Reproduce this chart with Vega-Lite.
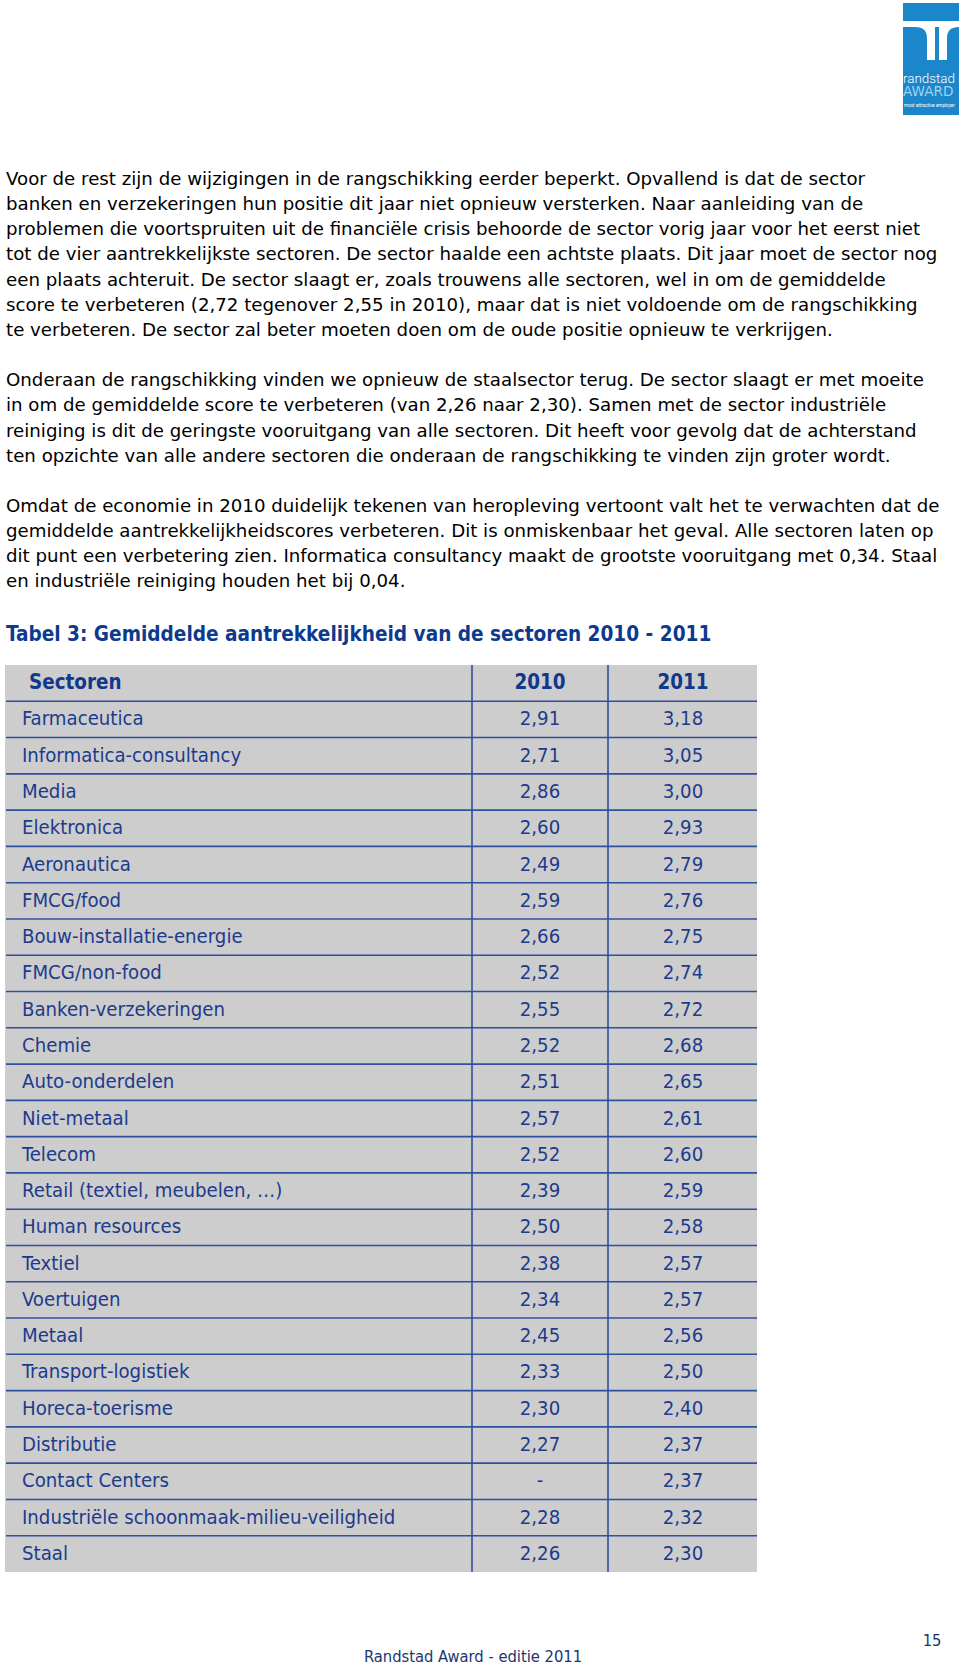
{
  "$schema": "https://vega.github.io/schema/vega-lite/v6.json",
  "width": 960,
  "height": 1673,
  "autosize": {"type": "none"},
  "padding": 0,
  "background": "white",
  "config": {
    "view": {"stroke": null},
    "axis": {"disable": true},
    "legend": {"disable": true},
    "locale": {"number": {"decimal": ",", "thousands": ".", "grouping": [3], "currency": ["€", ""]}}
  },
  "datasets": {
    "paragraphs": [
      {"line": 0, "text": "Voor de rest zijn de wijzigingen in de rangschikking eerder beperkt. Opvallend is dat de sector"},
      {"line": 1, "text": "banken en verzekeringen hun positie dit jaar niet opnieuw versterken. Naar aanleiding van de"},
      {"line": 2, "text": "problemen die voortspruiten uit de financiële crisis behoorde de sector vorig jaar voor het eerst niet"},
      {"line": 3, "text": "tot de vier aantrekkelijkste sectoren. De sector haalde een achtste plaats. Dit jaar moet de sector nog"},
      {"line": 4, "text": "een plaats achteruit. De sector slaagt er, zoals trouwens alle sectoren, wel in om de gemiddelde"},
      {"line": 5, "text": "score te verbeteren (2,72 tegenover 2,55 in 2010), maar dat is niet voldoende om de rangschikking"},
      {"line": 6, "text": "te verbeteren. De sector zal beter moeten doen om de oude positie opnieuw te verkrijgen."},
      {"line": 8, "text": "Onderaan de rangschikking vinden we opnieuw de staalsector terug. De sector slaagt er met moeite"},
      {"line": 9, "text": "in om de gemiddelde score te verbeteren (van 2,26 naar 2,30). Samen met de sector industriële"},
      {"line": 10, "text": "reiniging is dit de geringste vooruitgang van alle sectoren. Dit heeft voor gevolg dat de achterstand"},
      {"line": 11, "text": "ten opzichte van alle andere sectoren die onderaan de rangschikking te vinden zijn groter wordt."},
      {"line": 13, "text": "Omdat de economie in 2010 duidelijk tekenen van heropleving vertoont valt het te verwachten dat de"},
      {"line": 14, "text": "gemiddelde aantrekkelijkheidscores verbeteren. Dit is onmiskenbaar het geval. Alle sectoren laten op"},
      {"line": 15, "text": "dit punt een verbetering zien. Informatica consultancy maakt de grootste vooruitgang met 0,34. Staal"},
      {"line": 16, "text": "en industriële reiniging houden het bij 0,04."}
    ],
    "sectors": [
      {"rank": 1, "sector": "Farmaceutica", "2010": 2.91, "2011": 3.18},
      {"rank": 2, "sector": "Informatica-consultancy", "2010": 2.71, "2011": 3.05},
      {"rank": 3, "sector": "Media", "2010": 2.86, "2011": 3.00},
      {"rank": 4, "sector": "Elektronica", "2010": 2.60, "2011": 2.93},
      {"rank": 5, "sector": "Aeronautica", "2010": 2.49, "2011": 2.79},
      {"rank": 6, "sector": "FMCG/food", "2010": 2.59, "2011": 2.76},
      {"rank": 7, "sector": "Bouw-installatie-energie", "2010": 2.66, "2011": 2.75},
      {"rank": 8, "sector": "FMCG/non-food", "2010": 2.52, "2011": 2.74},
      {"rank": 9, "sector": "Banken-verzekeringen", "2010": 2.55, "2011": 2.72},
      {"rank": 10, "sector": "Chemie", "2010": 2.52, "2011": 2.68},
      {"rank": 11, "sector": "Auto-onderdelen", "2010": 2.51, "2011": 2.65},
      {"rank": 12, "sector": "Niet-metaal", "2010": 2.57, "2011": 2.61},
      {"rank": 13, "sector": "Telecom", "2010": 2.52, "2011": 2.60},
      {"rank": 14, "sector": "Retail (textiel, meubelen, …)", "2010": 2.39, "2011": 2.59},
      {"rank": 15, "sector": "Human resources", "2010": 2.50, "2011": 2.58},
      {"rank": 16, "sector": "Textiel", "2010": 2.38, "2011": 2.57},
      {"rank": 17, "sector": "Voertuigen", "2010": 2.34, "2011": 2.57},
      {"rank": 18, "sector": "Metaal", "2010": 2.45, "2011": 2.56},
      {"rank": 19, "sector": "Transport-logistiek", "2010": 2.33, "2011": 2.50},
      {"rank": 20, "sector": "Horeca-toerisme", "2010": 2.30, "2011": 2.40},
      {"rank": 21, "sector": "Distributie", "2010": 2.27, "2011": 2.37},
      {"rank": 22, "sector": "Contact Centers", "2010": null, "2011": 2.37},
      {"rank": 23, "sector": "Industriële schoonmaak-milieu-veiligheid", "2010": 2.28, "2011": 2.32},
      {"rank": 24, "sector": "Staal", "2010": 2.26, "2011": 2.30}
    ]
  },
  "layer": [
    {
      "data": {"values": [{"name": "randstad AWARD"}]},
      "mark": {"type": "rect", "color": "#1b86c9"},
      "encoding": {
        "x": {"datum": 0, "type": "quantitative", "scale": {"domain": [0, 1], "range": [903, 959], "nice": false, "zero": false}},
        "x2": {"datum": 1},
        "y": {"datum": 0, "type": "quantitative", "scale": {"domain": [0, 1], "range": [3, 115], "nice": false, "zero": false}},
        "y2": {"datum": 1}
      }
    },
    {
      "data": {"values": [{"name": "logo"}]},
      "mark": {"type": "point", "filled": true, "fill": "white", "opacity": 1, "strokeWidth": 0, "size": 3136,
        "shape": "M-1,-0.357H1V-0.143H-1Z M-0.571,-0.143Q-0.143,-0.143 -0.143,0.25V1.036H0.143V-0.143Z M1,-0.143Q0.571,-0.143 0.571,0.25V1.036H0.286V-0.143Z"},
      "encoding": {
        "x": {"datum": 0.5, "type": "quantitative", "scale": {"domain": [0, 1], "range": [903, 959], "nice": false, "zero": false}},
        "y": {"datum": 0.25, "type": "quantitative", "scale": {"domain": [0, 1], "range": [3, 115], "nice": false, "zero": false}}
      }
    },
    {
      "data": {"values": [{"label": "randstad"}]},
      "mark": {"type": "text", "align": "left", "baseline": "alphabetic", "font": "Roboto", "fontWeight": 300, "fontSize": 13.4, "color": "#ffffff"},
      "encoding": {
        "text": {"field": "label"},
        "x": {"datum": 0, "type": "quantitative", "scale": {"domain": [0, 1], "range": [903, 959], "nice": false, "zero": false}},
        "y": {"datum": 0, "type": "quantitative", "scale": {"domain": [0, 1], "range": [83, 100], "nice": false, "zero": false}}
      }
    },
    {
      "data": {"values": [{"label": "AWARD"}]},
      "mark": {"type": "text", "align": "left", "baseline": "alphabetic", "font": "DejaVu Sans", "fontSize": 13.6, "color": "#9fd3f3"},
      "encoding": {
        "text": {"field": "label"},
        "x": {"datum": 0, "type": "quantitative", "scale": {"domain": [0, 1], "range": [903, 959], "nice": false, "zero": false}},
        "y": {"datum": 0, "type": "quantitative", "scale": {"domain": [0, 1], "range": [96, 110], "nice": false, "zero": false}}
      }
    },
    {
      "data": {"values": [{"label": "most attractive employer"}]},
      "mark": {"type": "text", "align": "left", "baseline": "alphabetic", "font": "Roboto", "fontSize": 4.6, "color": "#ffffff"},
      "encoding": {
        "text": {"field": "label"},
        "x": {"datum": 0, "type": "quantitative", "scale": {"domain": [0, 1], "range": [904, 959], "nice": false, "zero": false}},
        "y": {"datum": 0, "type": "quantitative", "scale": {"domain": [0, 1], "range": [107, 120], "nice": false, "zero": false}}
      }
    },
    {
      "data": {"name": "paragraphs"},
      "mark": {"type": "text", "align": "left", "baseline": "alphabetic", "font": "DejaVu Sans", "fontSize": 18.2, "color": "#000000"},
      "encoding": {
        "text": {"field": "text"},
        "x": {"datum": 0, "type": "quantitative", "scale": {"domain": [0, 1], "range": [6, 960], "nice": false, "zero": false}},
        "y": {"field": "line", "type": "quantitative", "scale": {"domain": [0, 16], "range": [185, 587.4], "nice": false, "zero": false}}
      }
    },
    {
      "data": {"values": [{"title": "Tabel 3: Gemiddelde aantrekkelijkheid van de sectoren 2010 - 2011"}]},
      "mark": {"type": "text", "align": "left", "baseline": "alphabetic", "font": "DejaVu Sans Condensed", "fontWeight": "bold", "fontSize": 20.6, "color": "#0d3a8e"},
      "encoding": {
        "text": {"field": "title"},
        "x": {"datum": 0, "type": "quantitative", "scale": {"domain": [0, 1], "range": [6, 960], "nice": false, "zero": false}},
        "y": {"datum": 0, "type": "quantitative", "scale": {"domain": [0, 1], "range": [641, 700], "nice": false, "zero": false}}
      }
    },
    {
      "data": {"values": [{"table": "Tabel 3"}]},
      "mark": {"type": "rect", "color": "#cdcdcd"},
      "encoding": {
        "x": {"datum": 0, "type": "quantitative", "scale": {"domain": [0, 1], "range": [5, 757], "nice": false, "zero": false}},
        "x2": {"datum": 1},
        "y": {"datum": 0, "type": "quantitative", "scale": {"domain": [0, 1], "range": [665, 1572], "nice": false, "zero": false}},
        "y2": {"datum": 1}
      }
    },
    {
      "data": {"name": "sectors"},
      "mark": {"type": "rule", "color": "#2f4f9f", "strokeWidth": 1.6},
      "encoding": {
        "y": {"field": "rank", "type": "quantitative", "scale": {"domain": [0, 25], "range": [665, 1572], "nice": false, "zero": false}},
        "x": {"datum": 0, "type": "quantitative", "scale": {"domain": [0, 1], "range": [6, 757], "nice": false, "zero": false}},
        "x2": {"datum": 1}
      }
    },
    {
      "data": {"values": [{"year": "2010"}, {"year": "2011"}]},
      "mark": {"type": "rule", "color": "#2f4f9f", "strokeWidth": 1.6},
      "encoding": {
        "x": {"field": "year", "type": "nominal", "scale": {"type": "point", "domain": ["2010", "2011"], "range": [472, 608], "padding": 0}},
        "y": {"datum": 0, "type": "quantitative", "scale": {"domain": [0, 1], "range": [665, 1572], "nice": false, "zero": false}},
        "y2": {"datum": 1}
      }
    },
    {
      "data": {"values": [{"col": "Sectoren"}]},
      "mark": {"type": "text", "align": "left", "baseline": "middle", "font": "DejaVu Sans Condensed", "fontWeight": "bold", "fontSize": 20.4, "color": "#12388c"},
      "encoding": {
        "text": {"field": "col"},
        "x": {"datum": 0, "type": "quantitative", "scale": {"domain": [0, 1], "range": [29, 757], "nice": false, "zero": false}},
        "y": {"datum": 0, "type": "quantitative", "scale": {"domain": [-0.5, 24.5], "range": [665, 1572], "nice": false, "zero": false}}
      }
    },
    {
      "data": {"values": [{"col": "2010"}, {"col": "2011"}]},
      "mark": {"type": "text", "align": "center", "baseline": "middle", "font": "DejaVu Sans Condensed", "fontWeight": "bold", "fontSize": 20.4, "color": "#12388c"},
      "encoding": {
        "text": {"field": "col"},
        "x": {"field": "col", "type": "nominal", "scale": {"type": "point", "domain": ["2010", "2011"], "range": [540, 683], "padding": 0}},
        "y": {"datum": 0, "type": "quantitative", "scale": {"domain": [-0.5, 24.5], "range": [665, 1572], "nice": false, "zero": false}}
      }
    },
    {
      "data": {"name": "sectors"},
      "mark": {"type": "text", "align": "left", "baseline": "middle", "font": "DejaVu Sans Condensed", "fontSize": 20.2, "color": "#1c3b8c"},
      "encoding": {
        "text": {"field": "sector"},
        "x": {"datum": 0, "type": "quantitative", "scale": {"domain": [0, 1], "range": [22, 757], "nice": false, "zero": false}},
        "y": {"field": "rank", "type": "quantitative", "scale": {"domain": [-0.5, 24.5], "range": [665, 1572], "nice": false, "zero": false}}
      }
    },
    {
      "data": {"name": "sectors"},
      "transform": [{"fold": ["2010", "2011"], "as": ["year", "score"]}],
      "mark": {"type": "text", "align": "center", "baseline": "middle", "font": "DejaVu Sans Condensed", "fontSize": 20.2, "color": "#1c3b8c"},
      "encoding": {
        "text": {"condition": {"test": "datum.score == null", "value": "-"}, "field": "score", "type": "quantitative", "format": ".2f"},
        "x": {"field": "year", "type": "nominal", "scale": {"type": "point", "domain": ["2010", "2011"], "range": [540, 683], "padding": 0}},
        "y": {"field": "rank", "type": "quantitative", "scale": {"domain": [-0.5, 24.5], "range": [665, 1572], "nice": false, "zero": false}}
      }
    },
    {
      "data": {"values": [{"label": "Randstad Award - editie 2011"}, {"label": "15"}]},
      "mark": {"type": "text", "align": "center", "baseline": "alphabetic", "font": "DejaVu Sans Condensed", "fontSize": 16.4, "color": "#1d3573"},
      "encoding": {
        "text": {"field": "label"},
        "x": {"field": "label", "type": "nominal", "scale": {"type": "point", "domain": ["Randstad Award - editie 2011", "15"], "range": [473, 932], "padding": 0}},
        "y": {"field": "label", "type": "nominal", "scale": {"type": "point", "domain": ["Randstad Award - editie 2011", "15"], "range": [1662, 1646], "padding": 0}}
      }
    }
  ],
  "resolve": {"scale": {"x": "independent", "y": "independent", "color": "independent", "size": "independent"}}
}
